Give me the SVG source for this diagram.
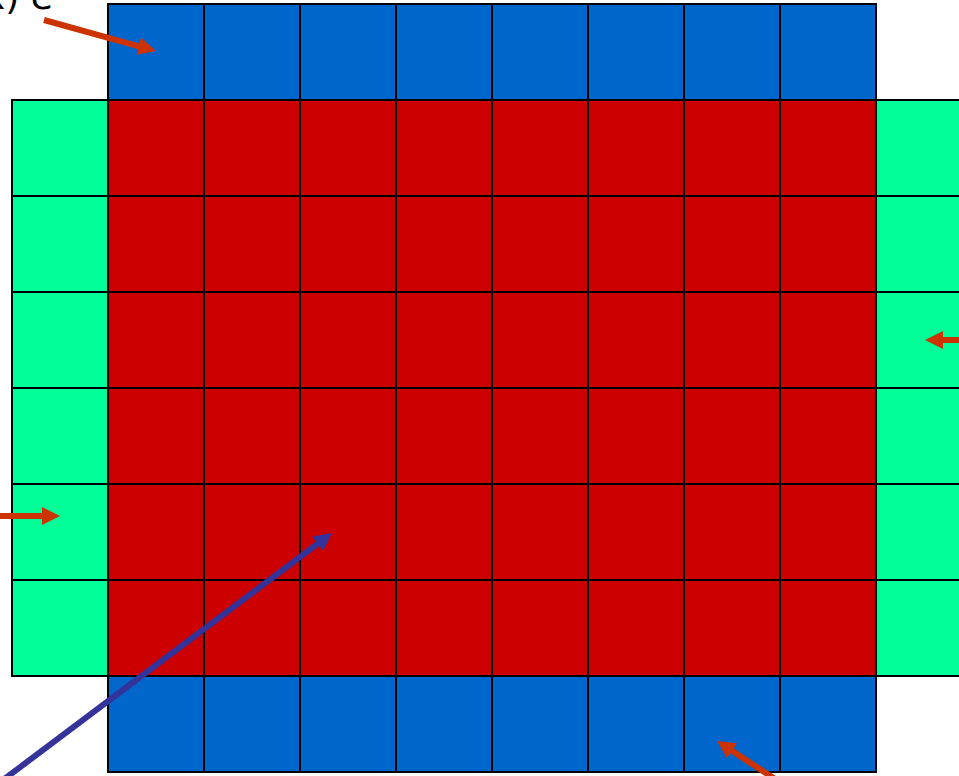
<svg xmlns="http://www.w3.org/2000/svg" width="959" height="776" viewBox="0 0 959 776">
<defs>
<style>
.b{fill:#0066CC;stroke:#000;stroke-width:2}
.r{fill:#CC0000;stroke:#000;stroke-width:2}
.g{fill:#00FF99;stroke:#000;stroke-width:2}
.ar{stroke:#CC3300;stroke-width:6;fill:none;marker-end:url(#ha)}
.ab{stroke:#333399;stroke-width:6;fill:none;marker-end:url(#hb)}
.lbl{font-family:"DejaVu Sans",sans-serif;font-size:36px;fill:#000}
</style>
<marker id="ha" markerUnits="userSpaceOnUse" markerWidth="18" markerHeight="18" refX="6" refY="9" orient="auto"><path d="M0,0 L18,9 L0,18 z" fill="#CC3300"/></marker>
<marker id="hb" markerUnits="userSpaceOnUse" markerWidth="18" markerHeight="18" refX="6" refY="9" orient="auto"><path d="M0,0 L18,9 L0,18 z" fill="#333399"/></marker>
</defs>
<rect width="959" height="776" fill="#fff"/>
<g id="top-row">
<rect class="b" x="108" y="4" width="96" height="96"/><rect class="b" x="204" y="4" width="96" height="96"/><rect class="b" x="300" y="4" width="96" height="96"/><rect class="b" x="396" y="4" width="96" height="96"/><rect class="b" x="492" y="4" width="96" height="96"/><rect class="b" x="588" y="4" width="96" height="96"/><rect class="b" x="684" y="4" width="96" height="96"/><rect class="b" x="780" y="4" width="96" height="96"/>
</g>
<g id="left-column">
<rect class="g" x="12" y="100" width="96" height="96"/><rect class="g" x="12" y="196" width="96" height="96"/><rect class="g" x="12" y="292" width="96" height="96"/><rect class="g" x="12" y="388" width="96" height="96"/><rect class="g" x="12" y="484" width="96" height="96"/><rect class="g" x="12" y="580" width="96" height="96"/>
</g>
<g id="right-column">
<rect class="g" x="876" y="100" width="96" height="96"/><rect class="g" x="876" y="196" width="96" height="96"/><rect class="g" x="876" y="292" width="96" height="96"/><rect class="g" x="876" y="388" width="96" height="96"/><rect class="g" x="876" y="484" width="96" height="96"/><rect class="g" x="876" y="580" width="96" height="96"/>
</g>
<g id="interior">
<rect class="r" x="108" y="100" width="96" height="96"/><rect class="r" x="204" y="100" width="96" height="96"/><rect class="r" x="300" y="100" width="96" height="96"/><rect class="r" x="396" y="100" width="96" height="96"/><rect class="r" x="492" y="100" width="96" height="96"/><rect class="r" x="588" y="100" width="96" height="96"/><rect class="r" x="684" y="100" width="96" height="96"/><rect class="r" x="780" y="100" width="96" height="96"/>
<rect class="r" x="108" y="196" width="96" height="96"/><rect class="r" x="204" y="196" width="96" height="96"/><rect class="r" x="300" y="196" width="96" height="96"/><rect class="r" x="396" y="196" width="96" height="96"/><rect class="r" x="492" y="196" width="96" height="96"/><rect class="r" x="588" y="196" width="96" height="96"/><rect class="r" x="684" y="196" width="96" height="96"/><rect class="r" x="780" y="196" width="96" height="96"/>
<rect class="r" x="108" y="292" width="96" height="96"/><rect class="r" x="204" y="292" width="96" height="96"/><rect class="r" x="300" y="292" width="96" height="96"/><rect class="r" x="396" y="292" width="96" height="96"/><rect class="r" x="492" y="292" width="96" height="96"/><rect class="r" x="588" y="292" width="96" height="96"/><rect class="r" x="684" y="292" width="96" height="96"/><rect class="r" x="780" y="292" width="96" height="96"/>
<rect class="r" x="108" y="388" width="96" height="96"/><rect class="r" x="204" y="388" width="96" height="96"/><rect class="r" x="300" y="388" width="96" height="96"/><rect class="r" x="396" y="388" width="96" height="96"/><rect class="r" x="492" y="388" width="96" height="96"/><rect class="r" x="588" y="388" width="96" height="96"/><rect class="r" x="684" y="388" width="96" height="96"/><rect class="r" x="780" y="388" width="96" height="96"/>
<rect class="r" x="108" y="484" width="96" height="96"/><rect class="r" x="204" y="484" width="96" height="96"/><rect class="r" x="300" y="484" width="96" height="96"/><rect class="r" x="396" y="484" width="96" height="96"/><rect class="r" x="492" y="484" width="96" height="96"/><rect class="r" x="588" y="484" width="96" height="96"/><rect class="r" x="684" y="484" width="96" height="96"/><rect class="r" x="780" y="484" width="96" height="96"/>
<rect class="r" x="108" y="580" width="96" height="96"/><rect class="r" x="204" y="580" width="96" height="96"/><rect class="r" x="300" y="580" width="96" height="96"/><rect class="r" x="396" y="580" width="96" height="96"/><rect class="r" x="492" y="580" width="96" height="96"/><rect class="r" x="588" y="580" width="96" height="96"/><rect class="r" x="684" y="580" width="96" height="96"/><rect class="r" x="780" y="580" width="96" height="96"/>
</g>
<g id="bottom-row">
<rect class="b" x="108" y="676" width="96" height="96"/><rect class="b" x="204" y="676" width="96" height="96"/><rect class="b" x="300" y="676" width="96" height="96"/><rect class="b" x="396" y="676" width="96" height="96"/><rect class="b" x="492" y="676" width="96" height="96"/><rect class="b" x="588" y="676" width="96" height="96"/><rect class="b" x="684" y="676" width="96" height="96"/><rect class="b" x="780" y="676" width="96" height="96"/>
</g>
<g id="label">
<text class="lbl" x="-16" y="9" xml:space="preserve">x) e</text>
</g>
<g id="connectors">
<line class="ar" x1="44" y1="20" x2="144.4" y2="47.8"/>
<line class="ar" x1="965" y1="340" x2="937" y2="340"/>
<line class="ar" x1="-5" y1="516" x2="48" y2="516"/>
<line class="ab" x1="-5" y1="786" x2="322.4" y2="540.2"/>
<line class="ar" x1="775" y1="779" x2="727" y2="747.6"/>
</g>
</svg>
